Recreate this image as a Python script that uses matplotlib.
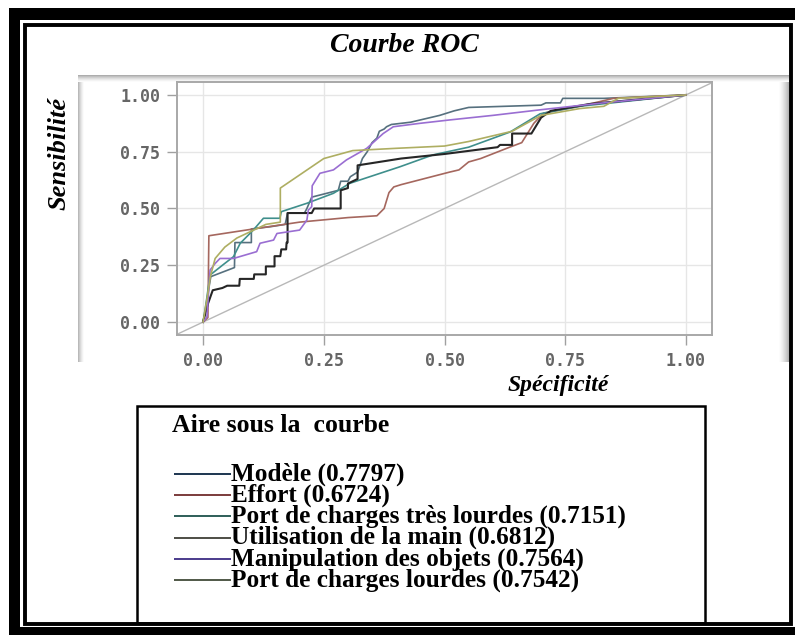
#!/usr/bin/env python
import numpy as np
import matplotlib
matplotlib.use("Agg")
import matplotlib.pyplot as plt
from matplotlib.patches import Rectangle
from matplotlib.ticker import FormatStrFormatter

# ROC curves (x = 1 - specificity axis as drawn, y = sensitivity)
modele_x = [0, 0.005, 0.012, 0.016, 0.065, 0.066, 0.10, 0.10, 0.14, 0.17, 0.175, 0.21, 0.215, 0.225,
            0.28, 0.285, 0.30, 0.305, 0.32, 0.33, 0.34, 0.35, 0.36, 0.365, 0.375, 0.38, 0.39, 0.43,
            0.49, 0.52, 0.55, 0.70, 0.71, 0.74, 0.745, 0.83, 1.0]
modele_y = [0, 0.05, 0.15, 0.20, 0.24, 0.35, 0.35, 0.41, 0.42, 0.43, 0.48, 0.48, 0.50, 0.55,
            0.58, 0.62, 0.62, 0.64, 0.66, 0.72, 0.75, 0.79, 0.81, 0.84, 0.85, 0.86, 0.87, 0.88,
            0.91, 0.93, 0.945, 0.955, 0.965, 0.965, 0.985, 0.985, 1.0]

effort_x = [0, 0.010, 0.012, 0.12, 0.20, 0.30, 0.36, 0.375, 0.385, 0.395, 0.41, 0.51, 0.53, 0.55,
            0.575, 0.635, 0.66, 0.685, 0.705, 0.78, 0.85, 1.0]
effort_y = [0, 0.02, 0.38, 0.415, 0.44, 0.46, 0.468, 0.50, 0.57, 0.595, 0.605, 0.66, 0.67, 0.705,
            0.72, 0.77, 0.79, 0.875, 0.92, 0.95, 0.985, 1.0]

tres_lourdes_x = [0, 0.006, 0.0145, 0.04, 0.063, 0.077, 0.104, 0.125, 0.159, 0.162, 0.215, 0.27,
                  0.304, 0.408, 0.476, 0.55, 0.636, 0.698, 0.78, 1.0]
tres_lourdes_y = [0, 0.08, 0.207, 0.25, 0.288, 0.347, 0.405, 0.457, 0.457, 0.486, 0.523, 0.567,
                  0.611, 0.684, 0.736, 0.77, 0.837, 0.917, 0.95, 1.0]

main_x = [0, 0.01, 0.02, 0.04, 0.05, 0.075, 0.076, 0.105, 0.106, 0.13, 0.13, 0.148, 0.148, 0.16,
          0.162, 0.172, 0.173, 0.175, 0.175, 0.225, 0.23, 0.285, 0.285, 0.30, 0.30, 0.32, 0.32,
          0.41, 0.50, 0.61, 0.615, 0.64, 0.64, 0.68, 0.70, 0.72, 0.80, 1.0]
main_y = [0, 0.08, 0.14, 0.15, 0.16, 0.16, 0.19, 0.19, 0.21, 0.21, 0.245, 0.245, 0.29, 0.29,
          0.32, 0.32, 0.35, 0.35, 0.48, 0.48, 0.50, 0.50, 0.58, 0.59, 0.61, 0.63, 0.69,
          0.72, 0.74, 0.77, 0.78, 0.78, 0.83, 0.83, 0.90, 0.93, 0.96, 1.0]

objets_x = [0, 0.008, 0.0145, 0.025, 0.035, 0.063, 0.111, 0.118, 0.146, 0.153, 0.20, 0.215, 0.218,
            0.225, 0.226, 0.242, 0.27, 0.297, 0.339, 0.373, 0.394, 0.449, 0.511, 0.60, 0.70, 0.82, 1.0]
objets_y = [0, 0.023, 0.229, 0.258, 0.28, 0.28, 0.31, 0.347, 0.361, 0.39, 0.405, 0.449, 0.493,
            0.508, 0.60, 0.655, 0.67, 0.714, 0.765, 0.83, 0.86, 0.875, 0.89, 0.91, 0.935, 0.963, 1.0]

lourdes_x = [0, 0.008, 0.015, 0.025, 0.045, 0.07, 0.10, 0.13, 0.16, 0.16, 0.25, 0.31, 0.40, 0.50,
             0.55, 0.64, 0.70, 0.78, 0.83, 0.86, 1.0]
lourdes_y = [0, 0.10, 0.20, 0.28, 0.33, 0.37, 0.40, 0.43, 0.44, 0.59, 0.72, 0.755, 0.765, 0.775,
             0.795, 0.84, 0.91, 0.94, 0.95, 0.985, 1.0]

labels = ['Modèle (0.7797)', 'Effort (0.6724)', 'Port de charges très lourdes (0.7151)',
          'Utilisation de la main (0.6812)', 'Manipulation des objets (0.7564)',
          'Port de charges lourdes (0.7542)']
curves = [(modele_x, modele_y), (effort_x, effort_y), (tres_lourdes_x, tres_lourdes_y),
          (main_x, main_y), (objets_x, objets_y), (lourdes_x, lourdes_y)]
plot_colors = ['#56707e', '#a5675e', '#3f8f8c', '#262626', '#9a6ed2', '#aeae62']
legend_colors = ['#1c3550', '#7b3b3b', '#2e5e58', '#4d4d45', '#4b3b8c', '#505848']
ticks = [0, 0.25, 0.5, 0.75, 1.0]

W, H = 795, 635
fig = plt.figure(figsize=(W / 100, H / 100), dpi=100)

# page decoration (pixel coordinates)
bg = fig.add_axes([0, 0, 1, 1])
bg.set_xlim(0, W)
bg.set_ylim(H, 0)
bg.axis('off')
bg.add_patch(Rectangle((9, 8), W - 9, H - 8, fc='black', ec='none'))
bg.add_patch(Rectangle((20, 20), W - 20, 607, fc='white', ec='none'))
bg.add_patch(Rectangle((25, 25), 765.5, 598.5, fill=False, ec='black', lw=2.8))
# shadow of the pasted graph panel
grad = np.linspace(0, 1, 50)[None, :]
bg.imshow(np.tile(grad, (2, 1)), cmap='Greys', vmin=0, vmax=2.4, extent=(779, 789, 362, 77),
          aspect='auto', zorder=1)
bg.imshow(np.tile(grad[:, ::-1], (2, 1)), cmap='Greys', vmin=0, vmax=2.4, extent=(78, 84, 362, 77),
          aspect='auto', zorder=1)
bg.imshow(np.tile(grad[:, ::-1], (2, 1)).T, cmap='Greys', vmin=0, vmax=2.2, extent=(78, 789, 82, 75),
          aspect='auto', zorder=1)
bg.set_xlim(0, W)
bg.set_ylim(H, 0)

# legend box
bg.add_patch(Rectangle((137, 406), 568, 217, fill=False, ec='black', lw=1.8, zorder=2))
bg.text(172, 425, 'Aire sous la  courbe', family='Liberation Serif', weight='bold',
        fontsize=18.5, va='center', ha='left')
for i, (lab, col) in enumerate(zip(labels, legend_colors)):
    yy = 474 + 21.2 * i
    bg.plot([174, 231], [yy, yy], color=col, lw=1.4, solid_capstyle='butt')
    bg.text(231, yy, lab, family='Liberation Serif', weight='bold', fontsize=18.2,
            va='center', ha='left')

bg.text(404, 45, 'Courbe ROC', family='Liberation Serif', weight='bold', style='italic',
        fontsize=20, ha='center', va='center')
bg.text(59, 153, 'Sensibilité', family='Liberation Serif', weight='bold', style='italic',
        fontsize=19, ha='center', va='center', rotation=90)
bg.text(558, 385, 'Spécificité', family='Liberation Serif', weight='bold', style='italic',
        fontsize=17, ha='center', va='center')

# ROC plot
ax = fig.add_axes([177 / W, 1 - 335 / H, (712 - 177) / W, (335 - 82) / H])
ax.set_facecolor('white')
ax.set_xlim(-0.054, 1.054)
ax.set_ylim(-0.057, 1.057)
ax.set_xticks(ticks)
ax.set_yticks(ticks)
ax.xaxis.set_major_formatter(FormatStrFormatter('%.2f'))
ax.yaxis.set_major_formatter(FormatStrFormatter('%.2f'))
ax.grid(True, color='#e6e6e6', lw=1)
ax.set_axisbelow(True)
for s in ax.spines.values():
    s.set_color('#a8a8a8')
    s.set_linewidth(1.4)
ax.tick_params(length=7, width=1, color='#a0a0a0', pad=5, labelsize=12, labelcolor='#666666')
for t in ax.get_xticklabels() + ax.get_yticklabels():
    t.set_family('DejaVu Sans Mono')
    t.set_weight('bold')
ax.axline((0, 0), slope=1, color='#b8b8b8', lw=1)
for (xs, ys), col in zip(curves, plot_colors):
    ax.plot(xs, ys, color=col, lw=1.5 if col == '#262626' else 1.2)

plt.savefig('out.png', dpi=100)
